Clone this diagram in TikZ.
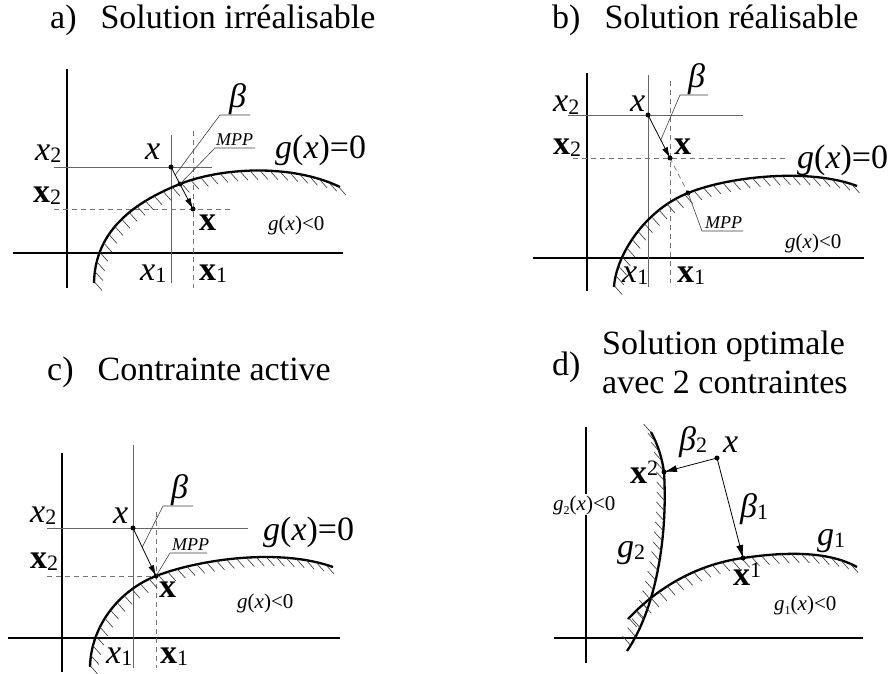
\documentclass[tikz,border=0pt]{standalone}
\usepackage{fontspec}
\setmainfont{Liberation Serif}
\usetikzlibrary{arrows.meta,decorations.markings,calc}
\newcommand\lsub[1]{\raisebox{-2pt}{\fontsize{22}{22}\selectfont #1}}
\newcommand\lsup[1]{\raisebox{8pt}{\fontsize{22}{22}\selectfont #1}}
\newcommand\tsub[1]{\raisebox{-4pt}{\fontsize{12}{12}\selectfont #1}}
\begin{document}
\begin{tikzpicture}[x=1pt,y=-1pt,
  axisline/.style={line width=2pt},
  bigcurve/.style={line width=2.3pt},
  guide/.style={line width=0.9pt,black!60},
  dguide/.style={line width=0.9pt,black!55,dash pattern=on 5pt off 4pt},
  leaderline/.style={line width=0.6pt,black!75},
  arrowline/.style={line width=0.8pt,-{Latex[length=11pt,width=6pt]}},
  hatchdown/.style={postaction={decorate,decoration={markings,
     mark=between positions 0.005 and 0.995 step 10pt with {\pgftransformresetnontranslations
       \draw[line width=0.6pt,black!80] (0pt,0pt) -- (8pt,-9pt);}}}},
  hatchup/.style={postaction={decorate,decoration={markings,
     mark=between positions 0.005 and 0.995 step 10pt with {\pgftransformresetnontranslations
       \draw[line width=0.6pt,black!80] (0pt,0pt) -- (-8pt,9pt);}}}},
  lbl/.style={inner sep=0pt,anchor=base west,font=\fontsize{34}{34}\selectfont},
  smalllbl/.style={inner sep=0pt,anchor=base west,font=\fontsize{21}{21}\selectfont},
  mpplbl/.style={inner sep=0pt,anchor=base west,font=\fontsize{18}{18}\selectfont\itshape},
  ttl/.style={inner sep=0pt,anchor=base west,font=\fontsize{34}{34}\selectfont},
  pdot/.style={fill=black}
]
\fill[white] (0,0) rectangle (896,674);
\useasboundingbox (0,0) rectangle (896,674);

% ---------------- titles
\node[ttl] (ta) at (50,29) {a)\hspace{24pt}Solution irréalisable};
\node[ttl] (tb) at (552,29) {b)\hspace{24pt}Solution réalisable};
\node[ttl] (tc) at (47,380) {c)\hspace{24pt}Contrainte active};
\node[ttl] (td) at (552,375) {d)};
\node[ttl] (td1) at (602,354) {Solution optimale};
\node[ttl] (td2) at (602,393) {avec 2 contraintes};

% ---------------- panel a
\coordinate (ax) at (171,167);
\coordinate (aX) at (193,209);
\coordinate (aM) at (180,184);
\draw[axisline] (13,253) -- (343,253);
\draw[axisline] (67,69) -- (67,288);
\draw[guide] (54,167) -- (212,167);
\draw[guide] (171,135) -- (171,283);
\draw[dguide] (54,209) -- (233,209);
\draw[dguide] (193,131) -- (193,288);
\draw[bigcurve,hatchdown] (94,283) .. controls (95,230) and (135,202) .. (aM) .. controls (220,168) and (290,163) .. (340,187);
\draw[arrowline] (ax) -- (aX);
\fill[pdot] (ax) circle (2.5pt);
\fill[pdot] (aX) circle (2.5pt);
\fill[pdot] (aM) circle (2.5pt);
\coordinate (aBl) at (220,115);
\coordinate (aMl) at (215,148);
\draw[leaderline] ($(ax)!0.19!(aX)$) -- (aBl) -- ++(30,0);
\draw[leaderline] (aM) -- (aMl) -- ++(40,0);
\node[lbl] (aB) at (229,107.5) {\itshape β};
\node[mpplbl] (aMP) at (216,145) {MPP};
\node[lbl] (ax2) at (35,160) {{\itshape x}\lsub{2}};
\node[lbl] (aX2) at (33,202) {\textbf{x}\lsub{2}};
\node[lbl] (axl) at (145,159) {\itshape x};
\node[lbl] (aXl) at (199,230) {\textbf{x}};
\node[lbl] (ag0) at (275,158) {{\itshape g}({\itshape x})=0};
\node[smalllbl] (agl) at (268,230) {{\itshape g}({\itshape x})<0};
\node[lbl] (ax1) at (140,280) {{\itshape x}\lsub{1}};
\node[lbl] (aX1) at (199,280) {\textbf{x}\lsub{1}};

% ---------------- panel b
\coordinate (bx) at (648,115);
\coordinate (bX) at (670,158);
\coordinate (bM) at (688,193);
\draw[axisline] (533,258) -- (864,258);
\draw[axisline] (587,73) -- (587,291);
\draw[guide] (568,115) -- (743,115);
\draw[guide] (648,75) -- (648,287);
\draw[dguide] (573,158) -- (787,158);
\draw[dguide] (670,81) -- (670,283);
\draw[bigcurve,hatchdown] (614,287) .. controls (616,255) and (645,210) .. (bM) .. controls (730,176) and (810,168) .. (857,186);
\draw[dguide,line width=0.7pt] (bX) -- (bM);
\draw[arrowline] (bx) -- (bX);
\fill[pdot] (bx) circle (2.5pt);
\fill[pdot] (bX) circle (2.5pt);
\fill[pdot] (bM) circle (2.5pt);
\coordinate (bBl) at (680,95);
\coordinate (bMl) at (702,231);
\draw[leaderline] ($(bx)!0.58!(bX)$) -- (bBl) -- ++(28,0);
\draw[leaderline] (bM) -- (bMl) -- ++(41,0);
\node[lbl] (bB) at (688,87.5) {\itshape β};
\node[mpplbl] (bMP) at (705,228) {MPP};
\node[lbl] (bx2) at (553,112) {{\itshape x}\lsub{2}};
\node[lbl] (bX2) at (553,154) {\textbf{x}\lsub{2}};
\node[lbl] (bxl) at (630,112) {\itshape x};
\node[lbl] (bXl) at (674,154) {\textbf{x}};
\node[lbl] (bg0) at (797,168) {{\itshape g}({\itshape x})=0};
\node[smalllbl] (bgl) at (785,248) {{\itshape g}({\itshape x})<0};
\node[lbl] (bx1) at (622,282) {{\itshape x}\lsub{1}};
\node[lbl] (bX1) at (677,282) {\textbf{x}\lsub{1}};

% ---------------- panel c
\coordinate (cx) at (133,528);
\coordinate (cX) at (156,576);
\draw[axisline] (8,638) -- (340,638);
\draw[axisline] (62,453) -- (62,672);
\draw[guide] (47,528) -- (248,528);
\draw[guide] (133,445) -- (133,668);
\draw[dguide] (47,576) -- (cX);
\draw[dguide] (156,512) -- (156,668);
\draw[bigcurve,hatchdown] (90,667) .. controls (91,625) and (120,590) .. (cX) .. controls (200,559) and (280,548) .. (333,567);
\draw[arrowline] (cx) -- (cX);
\fill[pdot] (cx) circle (2.5pt);
\fill[pdot] (cX) circle (2.5pt);
\coordinate (cBl) at (163,506);
\coordinate (cMl) at (170,553);
\draw[leaderline] ($(cx)!0.4!(cX)$) -- (cBl) -- ++(30,0);
\draw[leaderline] (cX) -- (cMl) -- ++(37,0);
\node[lbl] (cB) at (171,498.5) {\itshape β};
\node[mpplbl] (cMP) at (172,550) {MPP};
\node[lbl] (cx2) at (30,522) {{\itshape x}\lsub{2}};
\node[lbl] (cX2) at (30,568) {\textbf{x}\lsub{2}};
\node[lbl] (cxl) at (113,523) {\itshape x};
\node[lbl] (cXl) at (159,597) {\textbf{x}};
\node[lbl] (cg0) at (263,540) {{\itshape g}({\itshape x})=0};
\node[smalllbl] (cgl) at (237,608) {{\itshape g}({\itshape x})<0};
\node[lbl] (cx1) at (106,663) {{\itshape x}\lsub{1}};
\node[lbl] (cX1) at (160,663) {\textbf{x}\lsub{1}};

% ---------------- panel d
\coordinate (dx) at (717,458);
\coordinate (dX2) at (664,472);
\coordinate (dX1) at (743,558);
\draw[axisline] (554,638) -- (863,638);
\draw[axisline] (586,427) -- (586,663);
\draw[bigcurve,hatchup] (651,432) .. controls (658,445) and (662,458) .. (dX2) .. controls (668,540) and (655,610) .. (627,651);
\draw[bigcurve,hatchdown] (628,619) .. controls (660,585) and (700,564) .. (dX1) .. controls (790,551) and (830,552) .. (857,567);
\draw[line width=0.8pt,-{Latex[length=13pt,width=7pt]}] (dx) -- (dX2);
\draw[line width=0.8pt,-{Latex[length=13pt,width=7pt]}] (dx) -- (dX1);
\fill[pdot] (dx) circle (2.5pt);
\fill[pdot] (dX2) circle (2.5pt);
\fill[pdot] (dX1) circle (2.5pt);
\node[lbl] (dB2) at (679,450) {{\itshape β}\lsub{2}};
\node[lbl] (dxl) at (723,452) {\itshape x};
\node[lbl] (dX2l) at (630,483) {\textbf{x}\lsup{2}};
\node[lbl] (dB1) at (740,517) {{\itshape β}\lsub{1}};
\node[lbl] (dg1) at (817,545) {{\itshape g}\lsub{1}};
\node[lbl] (dg2) at (617,557) {{\itshape g}\lsub{2}};
\node[lbl] (dX1l) at (733,585) {\textbf{x}\lsup{1}};
\node[smalllbl] (dg1l) at (774,610) {{\itshape g}\tsub{1}({\itshape x})<0};
\node[smalllbl,fill=white,inner sep=1pt] (dg2l) at (552,510) {{\itshape g}\tsub{2}({\itshape x})<0};
\end{tikzpicture}
\end{document}
